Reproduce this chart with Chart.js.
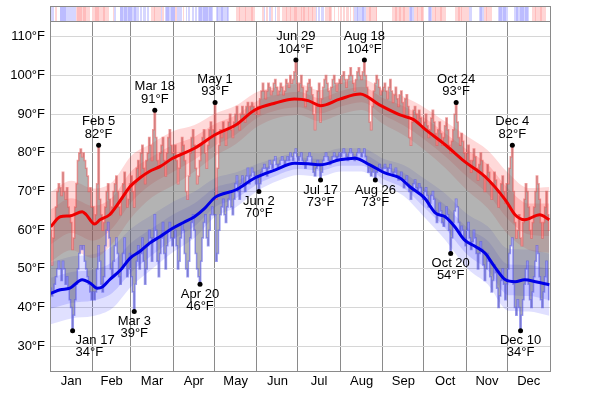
<!DOCTYPE html>
<html><head><meta charset="utf-8">
<script src="https://cdn.jsdelivr.net/npm/chart.js@4.4.1/dist/chart.umd.min.js"></script>
<style>html,body{margin:0;padding:0;background:#fff}canvas{display:block}</style>
</head><body>
<canvas id="c" width="600" height="394"></canvas>
<script>
const FONT = '"Liberation Sans", Arial, Helvetica, sans-serif';
const monthNames = ['Jan','Feb','Mar','Apr','May','Jun','Jul','Aug','Sep','Oct','Nov','Dec'];
const monthStarts = [0,31,59,90,120,151,181,212,243,273,304,334,365];
const monthMids = [15.5,45,74.5,105,135.5,166,196.5,227.5,258,288.5,319,349.5];
const yTicks = [30,40,50,60,70,80,90,100,110];

// daily observed highs (°F), one array per month
const dailyHighByMonth = [
 [60,51,58,62,66,70,72,71,69,75,70,68,71,66,64,62,55,58,66,72,78,80,81,79,80,78,76,74,70,71,66],
 [66,62,64,72,82,68,64,60,62,66,70,72,68,64,66,70,72,74,70,66,64,68,72,75,70,66,68,72],
 [74,70,66,72,76,78,74,80,82,76,72,78,80,84,82,78,86,91,84,78,76,80,82,84,78,74,80,84,86,82,80],
 [80,82,78,72,76,80,84,82,78,70,68,74,80,84,86,82,76,72,74,78,82,84,86,80,76,82,86,88,84,86],
 [93,68,76,82,86,84,88,86,82,86,88,90,86,84,88,90,92,88,86,90,92,90,88,92,93,90,92,93,92,91,90],
 [92,90,94,96,98,96,94,96,98,97,95,96,98,99,97,95,96,98,97,95,96,99,98,97,100,98,99,101,104,98],
 [96,98,100,97,94,92,96,98,99,97,95,90,86,92,96,98,88,94,97,99,100,98,96,94,97,99,100,98,96,98,99],
 [98,100,101,99,97,99,100,102,100,98,96,99,101,102,100,99,101,104,100,97,94,88,86,92,96,98,100,99,97,95,96],
 [97,98,96,94,97,99,96,93,95,97,94,92,95,96,93,90,94,95,92,84,82,88,91,92,90,88,91,89,87,86],
 [88,90,87,84,86,89,91,88,85,82,86,88,85,82,84,87,89,86,82,80,83,86,90,93,88,84,82,85,83,80,78],
 [80,82,78,75,78,81,79,76,73,77,80,78,74,70,74,77,75,72,68,72,75,73,70,66,69,72,74,70,67,72],
 [72,76,79,82,70,62,58,60,64,58,56,62,68,72,70,66,60,58,62,66,70,74,72,68,62,58,62,66,70,64,60]
];
// daily observed lows (°F), one array per month
const dailyLowByMonth = [
 [45,43,44,46,48,50,52,50,47,52,50,46,48,45,42,40,34,38,42,46,50,54,56,55,56,52,50,48,46,44,42],
 [44,42,44,50,56,52,46,44,48,56,60,62,58,50,48,52,56,58,54,48,46,50,54,58,52,48,50,54],
 [48,44,39,46,52,56,50,54,58,52,46,50,56,60,58,52,58,64,60,52,48,54,58,62,54,50,56,60,62,58,56],
 [58,60,56,50,52,58,62,60,54,50,48,52,58,62,64,60,54,50,48,46,52,58,62,64,58,56,60,64,66,64],
 [64,52,54,60,64,66,68,64,62,66,68,70,66,64,68,72,74,70,68,72,74,72,70,74,76,72,74,76,75,74,72],
 [74,70,72,75,76,77,76,74,76,78,77,76,78,79,77,76,77,78,79,78,77,78,79,78,80,79,78,80,81,79],
 [78,79,80,78,77,76,78,79,80,79,77,75,74,76,78,77,73,75,78,79,80,79,78,77,78,79,80,79,78,79,80],
 [79,80,81,80,79,78,80,81,80,79,78,79,80,81,80,79,80,81,79,77,75,76,74,75,76,73,75,76,77,76,75],
 [76,77,76,75,76,77,75,74,75,76,74,73,74,75,73,71,73,74,72,70,68,70,72,73,71,70,72,71,69,68],
 [70,71,69,66,67,69,70,68,65,62,64,67,65,62,61,63,66,64,60,54,58,62,65,68,66,62,59,61,60,58,56],
 [60,62,58,55,57,60,58,54,50,54,57,55,51,47,50,54,52,48,44,47,51,49,45,40,43,47,50,46,42,46],
 [50,54,56,58,46,40,38,42,40,34,38,42,46,50,52,46,42,40,44,48,52,56,54,48,42,40,44,48,52,46,42]
];
// daily departure from normal, top strip (-2 much colder ... +2 much warmer)
const stripByMonth = [
 [-1,-1,-1,0,1,0,0,-2,-2,-2,-2,-2,-1,-1,-1,-1,-1,-1,-1,1,2,2,2,1,2,2,1,1,1,0,0],
 [1,1,2,2,2,1,1,1,2,1,1,1,0,0,0,1,-1,0,0,0,-2,-2,-1,-2,-2,-1,-2,-2],
 [-2,-1,-2,-2,-1,-1,0,-1,0,-1,-1,0,-1,0,0,1,1,2,1,1,1,1,-1,1,0,-1,-2,-2,-1,-2,-2],
 [-2,1,1,-1,-1,-1,0,1,0,-1,0,-1,0,0,-1,0,-1,0,-1,-2,-2,-1,-2,-2,-2,-1,-2,-2,-1,0],
 [0,-1,-2,-1,-1,-2,-1,-1,-1,-2,-1,0,0,0,0,0,1,1,2,1,1,1,2,1,1,1,1,2,1,1,0],
 [0,0,0,0,1,-1,0,1,0,-1,1,1,0,-1,0,1,1,0,1,1,1,2,1,1,2,1,1,2,2,1],
 [1,1,2,1,2,1,1,2,1,1,2,1,1,-1,0,-1,0,-1,-1,0,1,1,1,2,1,0,1,0,0,1,0],
 [1,0,1,0,1,1,0,1,0,1,-1,-1,-2,-1,-1,-1,-2,-1,-1,1,1,2,1,1,1,1,2,0,0,0,0],
 [0,0,0,0,0,0,0,1,1,2,1,1,2,1,1,2,1,1,1,-1,-2,-1,-1,1,1,2,1,1,2,1],
 [0,0,0,-1,-2,-1,1,1,2,1,1,1,2,1,1,1,0,0,0,0,0,0,0,1,1,2,1,2,1,1,1],
 [1,1,-1,-1,0,0,0,0,0,-1,-2,-1,-1,1,2,1,1,1,1,0,0,0,0,-1,-2,-2,-1,-2,-2,-1],
 [0,0,0,0,0,-1,-2,-2,-1,-2,-2,-2,-1,-2,-2,-1,0,0,1,1,2,1,1,1,2,1,1,1,0,0,0]
];

// average high / low (thick lines), day-of-year -> °F
const avgHighDays = [0,7,14,23,26,32,36,43,51,58,65,72,80,89,105,120,135,149,164,178,188,197,211,226,240,255,265,273,288,302,317,332,339,346,357,364];
const avgHighVals = [60.9,63.5,63.7,64.8,64.0,61.6,62.7,64.0,67.8,71.3,73.5,75.2,76.5,78.6,81.2,84.7,87.2,91.1,92.9,93.9,93.5,92.2,93.9,95.2,92.4,89.8,88.6,86.2,82.1,77.8,73.9,67.8,64.0,62.7,64.0,62.7];
const avgLowDays = [0,7,14,23,29,34,38,43,51,58,65,72,80,89,97,105,112,120,135,149,164,178,188,197,211,222,233,244,255,262,273,281,288,295,302,310,317,324,332,339,346,354,364];
const avgLowVals = [43.7,44.6,45.0,47.2,46.3,45.0,45.4,47.2,49.7,52.8,54.5,56.6,58.4,60.5,62.0,63.5,65.5,68.5,70.4,73.5,75.6,77.3,77.2,76.9,78.2,78.6,76.9,74.8,73.5,71.3,68.3,64.4,63.5,60.9,57.5,55.8,54.1,50.6,47.2,46.7,47.2,46.7,45.9];

// percentile bands
const bandDays = [0,15,31,45,59,74,90,105,120,135,151,166,181,196,212,227,243,258,273,288,304,319,334,349,364];
const highP90 = [69.9,72.8,70.8,72.5,79.3,82.5,85.7,87.2,90.2,92.2,95.8,97.1,97.8,96.2,98.0,99.1,96.4,94.5,91.7,88.1,84.3,80.7,74.8,70.9,71.2];
const highP75 = [65.4,68.3,66.3,68.5,75.3,79.0,82.2,84.2,87.5,89.7,93.5,95.1,95.8,94.2,96.0,97.1,94.1,92.0,89.0,85.1,80.8,77.0,70.8,66.9,66.9];
const highP25 = [56.4,59.3,57.3,60.5,67.3,72.0,75.2,78.2,81.9,84.7,89.1,91.1,91.8,90.2,92.0,93.1,89.7,87.0,83.4,79.1,73.8,69.4,62.8,58.9,58.5];
const highP10 = [51.9,54.8,52.8,56.5,63.3,68.5,71.7,75.2,79.2,82.2,86.8,89.1,89.8,88.2,90.0,91.1,87.4,84.5,80.7,76.1,70.3,65.7,58.8,54.9,54.2];
const lowP90 = [51.7,53.2,53.8,55.8,60.5,64.0,67.5,70.0,73.5,74.9,77.2,78.8,80.3,79.9,81.2,81.2,78.5,76.8,73.3,69.5,64.2,61.0,55.2,55.0,53.9];
const lowP75 = [47.7,49.2,49.8,51.8,56.8,60.5,64.2,67.0,71.0,72.6,75.5,77.3,78.8,78.4,79.7,79.7,76.8,74.8,70.8,66.5,60.7,57.3,51.2,51.0,49.9];
const lowP25 = [39.7,41.2,41.8,43.8,49.2,53.5,57.8,61.0,66.0,68.2,71.9,74.3,75.8,75.4,76.7,76.7,73.2,70.8,65.8,60.5,53.7,49.7,43.2,43.0,41.9];
const lowP10 = [35.7,37.2,37.8,39.8,45.5,50.0,54.5,58.0,63.5,65.9,70.2,72.8,74.3,73.9,75.2,75.2,71.5,68.8,63.3,57.5,50.2,46.0,39.2,39.0,37.9];

// labelled extremes
const extremeNames = ['Feb 5','Mar 18','May 1','Jun 29','Aug 18','Oct 24','Dec 4','Jan 17','Mar 3','Apr 20','Jun 2','Jul 17','Aug 26','Oct 20','Dec 10'];
const extremeDays  = [35,76,120,179,229,296,337,16,61,109,152,197,237,292,343];
const extremeTemps = [82,91,93,104,104,93,82,34,39,46,70,73,73,54,34];
const extremeKinds = ['hi','hi','hi','hi','hi','hi','hi','lo','lo','lo','lo','lo','lo','lo','lo'];

const dailyHigh = [].concat(...dailyHighByMonth);
const dailyLow = [].concat(...dailyLowByMonth);
const strip = [].concat(...stripByMonth);

const pts = (xs, ys, off) => xs.map((x, i) => ({x: x + off, y: ys[i]}));
const dayPts = ys => ys.map((y, i) => ({x: i + 0.5, y}));

const band = (data, fill, bg, order) => ({
  data, fill, backgroundColor: bg, borderWidth: 0, borderColor: 'rgba(0,0,0,0)',
  pointRadius: 0, tension: 0.4, cubicInterpolationMode: 'monotone', order
});

const stripColors = {'-2':'rgb(188,188,255)','-1':'rgb(214,214,255)','0':'#ffffff','1':'rgb(255,214,214)','2':'rgb(255,188,188)'};

const overlay = {
  id: 'overlay',
  afterDraw(chart) {
    const ctx = chart.ctx, a = chart.chartArea, xs = chart.scales.x, ys = chart.scales.y;
    ctx.save();
    // top strip
    const st = 6, sb = Math.round(a.top);
    strip.forEach((v, d) => {
      const x0 = Math.round(xs.getPixelForValue(d)), x1 = Math.round(xs.getPixelForValue(d + 1));
      ctx.fillStyle = stripColors[String(v)];
      ctx.fillRect(x0, st, x1 - x0, sb - st);
    });
    ctx.strokeStyle = '#8a8a8a'; ctx.lineWidth = 1;
    ctx.strokeRect(Math.round(a.left) + 0.5, st + 0.5, Math.round(a.right) - Math.round(a.left), sb - st);
    // plot frame
    ctx.strokeRect(Math.round(a.left) + 0.5, Math.round(a.top) + 0.5, Math.round(a.right) - Math.round(a.left), Math.round(a.bottom) - Math.round(a.top));
    // extreme labels
    ctx.fillStyle = '#000'; ctx.font = '13px ' + FONT; ctx.textBaseline = 'middle';
    extremeNames.forEach((name, i) => {
      const px = xs.getPixelForValue(extremeDays[i] + 0.5), py = ys.getPixelForValue(extremeTemps[i]);
      const t2 = extremeTemps[i] + '°F';
      const w = Math.max(ctx.measureText(name).width, ctx.measureText(t2).width);
      let align = 'center', tx = px;
      if (px - w / 2 < a.left + 6) { align = 'left'; tx = px + 3; }
      ctx.textAlign = align;
      if (extremeKinds[i] === 'hi') {
        ctx.fillText(name, tx, py - 23.5);
        ctx.fillText(t2, tx, py - 11);
      } else {
        ctx.fillText(name, tx, py + 10);
        ctx.fillText(t2, tx, py + 22);
      }
    });
    ctx.restore();
  }
};

new Chart(document.getElementById('c'), {
  type: 'line',
  data: {
    datasets: [
      band(pts(bandDays, highP90, 0.5), '+1', 'rgba(255,0,0,0.15)', 10),
      band(pts(bandDays, highP10, 0.5), false, 'rgba(0,0,0,0)', 10),
      band(pts(bandDays, highP75, 0.5), '+1', 'rgba(255,0,0,0.16)', 9),
      band(pts(bandDays, highP25, 0.5), false, 'rgba(0,0,0,0)', 9),
      band(pts(bandDays, lowP90, 0.5), '+1', 'rgba(0,0,255,0.12)', 10),
      band(pts(bandDays, lowP10, 0.5), false, 'rgba(0,0,0,0)', 10),
      band(pts(bandDays, lowP75, 0.5), '+1', 'rgba(0,0,255,0.13)', 9),
      band(pts(bandDays, lowP25, 0.5), false, 'rgba(0,0,0,0)', 9),
      { data: dayPts(dailyHigh), stepped: 'middle', fill: '+1', backgroundColor: 'rgba(110,110,110,0.52)',
        borderColor: 'rgba(235,80,80,0.55)', borderWidth: 1.5, pointRadius: 0, order: 6 },
      { data: dayPts(dailyLow), stepped: 'middle', fill: false,
        borderColor: 'rgba(80,80,235,0.55)', borderWidth: 1.5, pointRadius: 0, order: 5 },
      { data: pts(avgHighDays, avgHighVals, 0.5), borderColor: '#f00000', borderWidth: 3, pointRadius: 0,
        tension: 0.3, cubicInterpolationMode: 'monotone', fill: false, order: 2 },
      { data: pts(avgLowDays, avgLowVals, 0.5), borderColor: '#0000e6', borderWidth: 3, pointRadius: 0,
        tension: 0.3, cubicInterpolationMode: 'monotone', fill: false, order: 2 },
      { data: pts(extremeDays, extremeTemps, 0.5), showLine: false, pointRadius: 2.5, pointBorderWidth: 0,
        pointBackgroundColor: '#000', fill: false, order: 1 }
    ]
  },
  options: {
    responsive: false, animation: false, devicePixelRatio: 1,
    layout: { padding: { top: 21, right: 50, left: 0, bottom: 0 } },
    plugins: { legend: { display: false }, tooltip: { enabled: false } },
    scales: {
      x: {
        type: 'linear', min: 0, max: 365, position: 'bottom', weight: 0, z: 1,
        grid: { color: '#8a8a8a', lineWidth: 1, drawTicks: false },
        border: { display: false },
        ticks: { display: false },
        afterBuildTicks: s => { s.ticks = monthStarts.map(v => ({ value: v })); },
        afterFit: s => { s.height = 0; }
      },
      xm: {
        type: 'linear', min: 0, max: 365, position: 'bottom', weight: 1,
        grid: { display: false, drawTicks: false }, border: { display: false },
        ticks: { color: '#000', font: { size: 13, family: FONT }, padding: 3, maxRotation: 0, autoSkip: false,
                 callback: (v, i) => monthNames[i] },
        afterBuildTicks: s => { s.ticks = monthMids.map(v => ({ value: v })); },
        afterFit: s => { s.height = 23; }
      },
      y: {
        type: 'linear', min: 23.6, max: 114.1,
        grid: { color: '#d6d6d6', drawTicks: false }, border: { display: false },
        ticks: { color: '#000', font: { size: 13, family: FONT }, padding: 5, callback: v => v + '°F' },
        afterBuildTicks: s => { s.ticks = yTicks.map(v => ({ value: v })); },
        afterFit: s => { s.width = 50; }
      }
    }
  },
  plugins: [overlay]
});
</script>
</body></html>
